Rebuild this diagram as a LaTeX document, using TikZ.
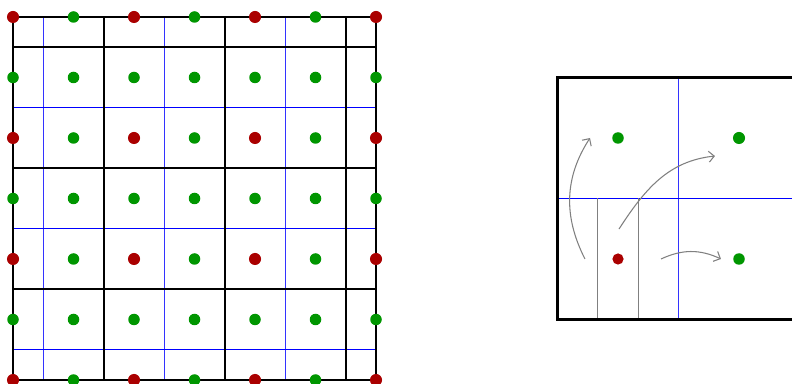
\documentclass[tikz,border=0pt]{standalone}
\usetikzlibrary{arrows.meta}
\definecolor{dotred}{RGB}{170,0,0}
\definecolor{dotgreen}{RGB}{0,150,0}
\begin{document}
\begin{tikzpicture}[
  reddot/.style={circle,fill=dotred,inner sep=0pt,minimum size=0.2cm},
  greendot/.style={circle,fill=dotgreen,inner sep=0pt,minimum size=0.19cm},
  bluev/.style={blue!80,line width=0.6pt},
  blueh/.style={blue,line width=0.6pt},
  thickline/.style={black,line width=1pt},
  thinline/.style={black,line width=0.5pt},
  frameline/.style={black,line width=1.2pt},
  subline/.style={gray,line width=0.5pt},
  moveline/.style={gray,line width=0.5pt,-{Straight Barb[length=0.9mm,width=1.8mm]}}
]
\useasboundingbox (-0.215,-0.05) rectangle (12.876,6.281);
\clip (-0.215,-0.05) rectangle (12.876,6.281);
% left grid: blue lines
\foreach \k in {0.5,2.5,4.5} \draw[bluev] (\k,0) -- (\k,6);
\foreach \k in {0.5,2.5,4.5} \draw[blueh] (0,\k) -- (6,\k);
% black lines
\draw[thinline] (0,0) rectangle (6,6);
\foreach \k in {1.5,3.5,5.5} \draw[thickline] (\k,0) -- (\k,6);
\foreach \k in {1.5,3.5,5.5} \draw[thickline] (0,\k) -- (6,\k);
% dots
\foreach \i in {0,...,6}{
  \foreach \j in {0,...,6}{
    \pgfmathtruncatemacro\isred{(mod(\i,2)==0)&&(mod(\j,2)==0)}
    \ifnum\isred=1
      \node[reddot] (d\i\j) at (\i,\j) {};
    \else
      \node[greendot] (d\i\j) at (\i,\j) {};
    \fi
  }
}
% right panel
\draw[bluev] (11,1) -- (11,5);
\draw[blueh] (9,3) -- (13,3);
\draw[subline] (9.667,1) -- (9.667,3);
\draw[subline] (10.333,1) -- (10.333,3);
\draw[frameline] (9,1) rectangle (13,5);
\node[reddot,minimum size=0.185cm] (r) at (10,2) {};
\node[greendot] (g1) at (10,4) {};
\node[greendot,minimum size=0.2cm] (g2) at (12,4) {};
\node[greendot] (g3) at (12,2) {};
\coordinate (a1s) at (9.454,2.0);
\coordinate (a1e) at (9.537,4.0);
\coordinate (a2s) at (10.016,2.495);
\coordinate (a2e) at (11.603,3.702);
\coordinate (a3s) at (10.711,2.0);
\coordinate (a3e) at (11.702,2.0);
\draw[moveline] (a1s) to[out=117,in=237] (a1e);
\draw[moveline] (a2s) to[out=57,in=186] (a2e);
\draw[moveline] (a3s) to[out=25,in=155] (a3e);
\end{tikzpicture}
\end{document}
